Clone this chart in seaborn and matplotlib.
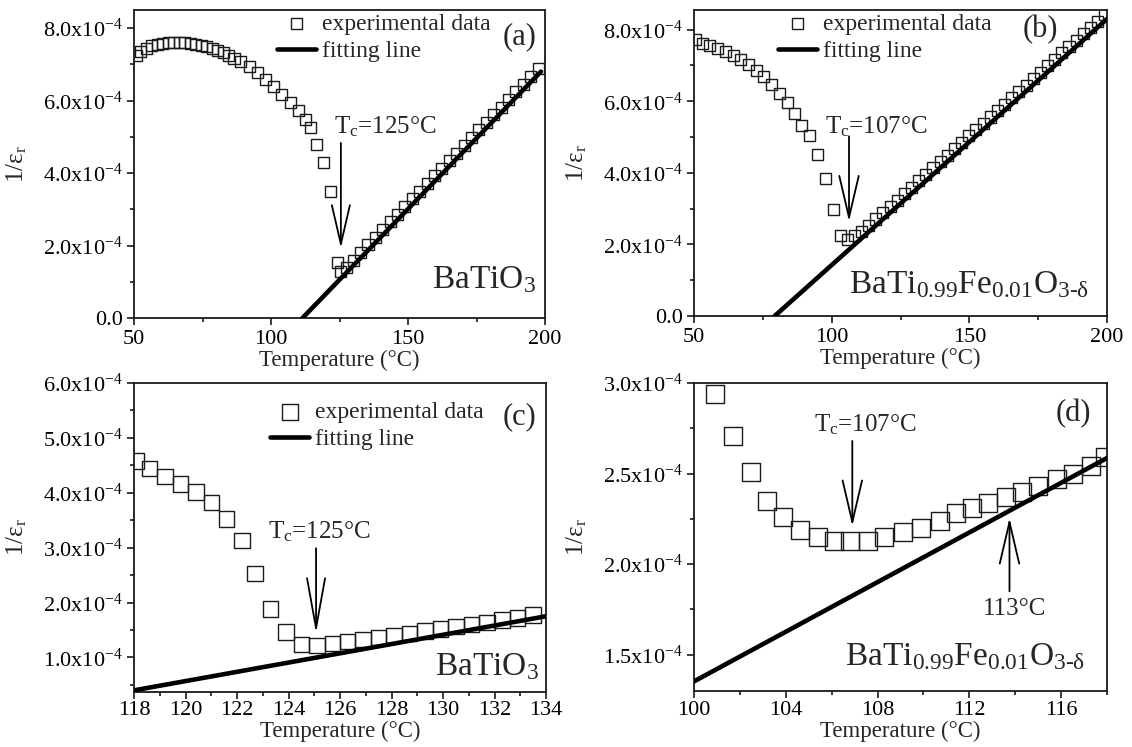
import numpy as np
import pandas as pd
import matplotlib
matplotlib.use("Agg")
import matplotlib.pyplot as plt
import seaborn as sns
from matplotlib.ticker import MultipleLocator, FuncFormatter

# ---------------- data (1/eps_r in units of 1e-4) ----------------
a_temp = [51, 52.5, 54.5, 56.5, 58.5, 60.5, 62.5, 64.5, 66.5, 68.5, 70.5, 72.5, 74.5,
          76.5, 78.5, 80.5, 82.5, 84.5, 86.5, 89, 92, 95, 98, 101, 104, 107, 110, 112.5,
          114.5, 116.5, 119.3, 121.6, 124.2, 125.5, 127.5, 130, 132.7, 135.4, 138.1, 140.8,
          143.5, 146.2, 148.9, 151.6, 154.3, 157, 159.7, 162.4, 165.1, 167.8, 170.5, 173.2,
          175.9, 178.6, 181.3, 184, 186.7, 189.4, 192.1, 194.8, 197.5]
a_inv = [7.24, 7.36, 7.45, 7.51, 7.55, 7.58, 7.60, 7.61, 7.61, 7.60, 7.58, 7.55, 7.52,
         7.48, 7.43, 7.38, 7.32, 7.25, 7.17, 7.07, 6.93, 6.77, 6.59, 6.40, 6.18, 5.95, 5.72, 5.48,
         5.25, 4.78, 4.28, 3.49, 1.52, 1.29, 1.40, 1.60, 1.81, 2.02, 2.23, 2.44,
         2.65, 2.86, 3.07, 3.29, 3.50, 3.71, 3.92, 4.13, 4.34, 4.55, 4.76, 4.97,
         5.19, 5.40, 5.61, 5.82, 6.03, 6.24, 6.45, 6.66, 6.88]
a_fit_temp = [111.5, 198.5]
a_fit_inv = [0.0, 6.80]

b_temp = [50.5, 53, 55.8, 58.6, 61.4, 64.2, 67, 69.8, 72.6, 75.4, 78.2, 81, 83.8, 86.5,
          89.2, 92, 94.9, 97.7, 100.6, 103.3, 105.8, 108.2, 110.8, 113.4, 116, 118.6, 121.2,
          123.8, 126.4, 129, 131.6, 134.2, 136.8, 139.4, 142, 144.6, 147.2, 149.8, 152.4, 155,
          157.6, 160.2, 162.8, 165.4, 168, 170.6, 173.2, 175.8, 178.4, 181, 183.6, 186.2,
          188.8, 191.4, 194, 196.6, 199.2]
b_inv = [7.72, 7.62, 7.55, 7.47, 7.38, 7.28, 7.16, 7.02, 6.86, 6.68, 6.47, 6.23, 5.96, 5.65,
         5.33, 5.03, 4.50, 3.85, 2.97, 2.24, 2.15, 2.25, 2.36, 2.53, 2.71, 2.89, 3.06,
         3.24, 3.42, 3.60, 3.78, 3.96, 4.14, 4.31, 4.49, 4.67, 4.85, 5.03, 5.21, 5.38,
         5.56, 5.74, 5.92, 6.10, 6.28, 6.45, 6.63, 6.81, 6.99, 7.17, 7.35, 7.52,
         7.70, 7.88, 8.06, 8.24, 8.42]
b_fit_temp = [79.3, 200.0]
b_fit_inv = [0.0, 8.30]

c_temp = [118.1, 118.6, 119.2, 119.8, 120.4, 121.0, 121.6, 122.2, 122.7, 123.3, 123.9,
          124.5, 125.1, 125.7, 126.3, 126.9, 127.5, 128.1, 128.7, 129.3, 129.9, 130.5,
          131.1, 131.7, 132.3, 132.9, 133.5]
c_inv = [4.58, 4.44, 4.30, 4.16, 4.01, 3.82, 3.52, 3.13, 2.53, 1.88, 1.46,
         1.24, 1.22, 1.25, 1.29, 1.33, 1.36, 1.40, 1.44, 1.48, 1.52, 1.56,
         1.60, 1.64, 1.68, 1.72, 1.77]
c_fit_temp = [118.0, 134.0]
c_fit_inv = [0.40, 1.75]

d_temp = [100.9, 101.7, 102.5, 103.2, 103.9, 104.6, 105.4, 106.1, 106.8, 107.6, 108.3,
          109.1, 109.9, 110.7, 111.4, 112.1, 112.8, 113.6, 114.3, 115.0, 115.8, 116.5,
          117.3, 117.9]
d_inv = [2.94, 2.71, 2.51, 2.35, 2.26, 2.19, 2.15, 2.13, 2.13, 2.13, 2.15,
         2.18, 2.20, 2.24, 2.28, 2.31, 2.34, 2.37, 2.40, 2.43, 2.47, 2.50,
         2.54, 2.59]
d_fit_temp = [100.0, 118.0]
d_fit_inv = [1.353, 2.586]

SCALE = 1e-4
formula = r"BaTi$_{\mathrm{0.99}}$Fe$_{\mathrm{0.01}}$O$_{\mathrm{3\text{-}δ}}$"

# ---------------- style ----------------
sns.set_theme(style="ticks")
plt.rcParams["font.family"] = ["Liberation Serif", "DejaVu Serif"]
plt.rcParams["mathtext.fontset"] = "custom"
plt.rcParams["mathtext.rm"] = "Liberation Serif"
plt.rcParams["mathtext.it"] = "Liberation Serif:italic"
plt.rcParams["mathtext.bf"] = "Liberation Serif:bold"
plt.rcParams["mathtext.fallback"] = "stix"
plt.rcParams["axes.linewidth"] = 1.3
plt.rcParams["axes.edgecolor"] = "#1a1a1a"

fig = plt.figure(figsize=(11.32, 7.47), dpi=100)
W, H = 1132, 747
def rect(l, t, r, b):
    return [l / W, 1 - b / H, (r - l) / W, (b - t) / H]

ax_a = fig.add_axes(rect(134, 10, 545, 318))
ax_b = fig.add_axes(rect(694, 10, 1107, 316))
ax_c = fig.add_axes(rect(134, 383, 546, 692))
ax_d = fig.add_axes(rect(694, 383, 1107, 691))

def fmt(v, pos):
    if abs(v) < 1e-12:
        return "0.0"
    return f"{v / SCALE:.1f}x10$^{{\\mathrm{{-4}}}}$"

def draw(ax, tx, ty, fx, fy, msize, with_label):
    df = pd.DataFrame({"T": tx, "inv": np.array(ty) * SCALE})
    dfit = pd.DataFrame({"T": fx, "inv": np.array(fy) * SCALE})
    sns.scatterplot(data=df, x="T", y="inv", ax=ax, marker="s", s=msize,
                    facecolor="none", edgecolor="#1a1a1a", linewidth=1.0,
                    label="experimental data" if with_label else None, zorder=3)
    sns.lineplot(data=dfit, x="T", y="inv", ax=ax, color="black", lw=3.3,
                 label="fitting line" if with_label else None, zorder=4)

def style(ax, xlim, ylim, xmaj, xmin, ymaj, ymin, xpad, lpad):
    ax.set_xlim(*xlim)
    ax.set_ylim(*ylim)
    ax.xaxis.set_major_locator(MultipleLocator(xmaj))
    ax.xaxis.set_minor_locator(MultipleLocator(xmin))
    ax.yaxis.set_major_locator(MultipleLocator(ymaj))
    ax.yaxis.set_minor_locator(MultipleLocator(ymin))
    ax.yaxis.set_major_formatter(FuncFormatter(fmt))
    ax.tick_params(which="both", direction="out", top=False, right=False,
                   width=1.2, colors="#1a1a1a", labelcolor="black")
    ax.tick_params(which="major", length=5, labelsize=16)
    ax.tick_params(which="minor", length=3)
    ax.tick_params(axis="x", which="major", pad=xpad)
    ax.tick_params(axis="y", which="major", pad=3)
    ax.set_xlabel("Temperature (°C)", fontsize=16.5, labelpad=lpad)
    ax.set_ylabel("1/ε$_{\\mathrm{r}}$", fontsize=18)
    ax.yaxis.set_label_coords(-0.255, 0.5)
    for s in ax.spines.values():
        s.set_visible(True)

def arrow(ax, x, y0, y1, hl, hw):
    ax.annotate("", xy=(x, y1 * SCALE), xytext=(x, y0 * SCALE),
                arrowprops=dict(arrowstyle=f"->,head_length={hl},head_width={hw}",
                                mutation_scale=10, lw=1.3, color="black",
                                shrinkA=0, shrinkB=0), zorder=5)

def legend(ax, x, y):
    ax.legend(loc="upper left", bbox_to_anchor=(x, y), frameon=False, fontsize=17,
              borderpad=0, borderaxespad=0, handlelength=1.65, handletextpad=0.25,
              labelspacing=0.25)

# (a)
draw(ax_a, a_temp, a_inv, a_fit_temp, a_fit_inv, 63, True)
style(ax_a, (50, 200), (0, 8.5e-4), 50, 25, 2e-4, 1e-4, 4, 0.5)
legend(ax_a, 0.348, 0.99)
ax_a.text(0.98, 0.912, "(a)", transform=ax_a.transAxes, ha="right", va="center", fontsize=22)
ax_a.text(123.0, 5.28e-4, "T$_{\\mathrm{c}}$=125°C", ha="left", va="center", fontsize=18)
arrow(ax_a, 125.5, 4.83, 1.93, 2.8, 0.65)
ax_a.text(158.8, 0.83e-4, "BaTiO$_{\\mathrm{3}}$", ha="left", va="baseline", fontsize=24)

# (b)
draw(ax_b, b_temp, b_inv, b_fit_temp, b_fit_inv, 63, True)
style(ax_b, (50, 200), (0, 8.55e-4), 50, 25, 2e-4, 1e-4, 4, 0.5)
legend(ax_b, 0.203, 0.99)
ax_b.text(0.881, 0.935, "(b)", transform=ax_b.transAxes, ha="right", va="center", fontsize=22)
ax_b.text(97.7, 5.30e-4, "T$_{\\mathrm{c}}$=107°C", ha="left", va="center", fontsize=18)
arrow(ax_b, 106.3, 5.02, 2.64, 3.0, 0.7)
ax_b.text(106.3, 0.63e-4, formula, ha="left", va="baseline", fontsize=24)

# (c)
draw(ax_c, c_temp, c_inv, c_fit_temp, c_fit_inv, 124, True)
style(ax_c, (118, 134), (0.37e-4, 6.0e-4), 2, 1, 1e-4, 0.5e-4, 1.5, 0.5)
legend(ax_c, 0.331, 0.94)
ax_c.text(0.976, 0.89, "(c)", transform=ax_c.transAxes, ha="right", va="center", fontsize=22)
ax_c.text(123.2, 3.29e-4, "T$_{\\mathrm{c}}$=125°C", ha="left", va="center", fontsize=18)
arrow(ax_c, 125.07, 2.99, 1.44, 3.6, 0.65)
ax_c.text(129.7, 0.68e-4, "BaTiO$_{\\mathrm{3}}$", ha="left", va="baseline", fontsize=24)

# (d)
draw(ax_d, d_temp, d_inv, d_fit_temp, d_fit_inv, 168, False)
style(ax_d, (100, 118), (1.3e-4, 3.0e-4), 4, 2, 0.5e-4, 0.25e-4, 2, 0.5)
if ax_d.get_legend() is not None:
    ax_d.get_legend().remove()
ax_d.text(0.961, 0.9, "(d)", transform=ax_d.transAxes, ha="right", va="center", fontsize=22)
ax_d.text(105.25, 2.77e-4, "T$_{\\mathrm{c}}$=107°C", ha="left", va="center", fontsize=18)
arrow(ax_d, 106.9, 2.68, 2.21, 3.0, 0.7)
arrow(ax_d, 113.75, 1.85, 2.255, 3.0, 0.7)
ax_d.text(112.6, 1.75e-4, "113°C", ha="left", va="center", fontsize=18)
ax_d.text(106.6, 1.445e-4, formula, ha="left", va="baseline", fontsize=24)

fig.savefig("out.png", dpi=100)
